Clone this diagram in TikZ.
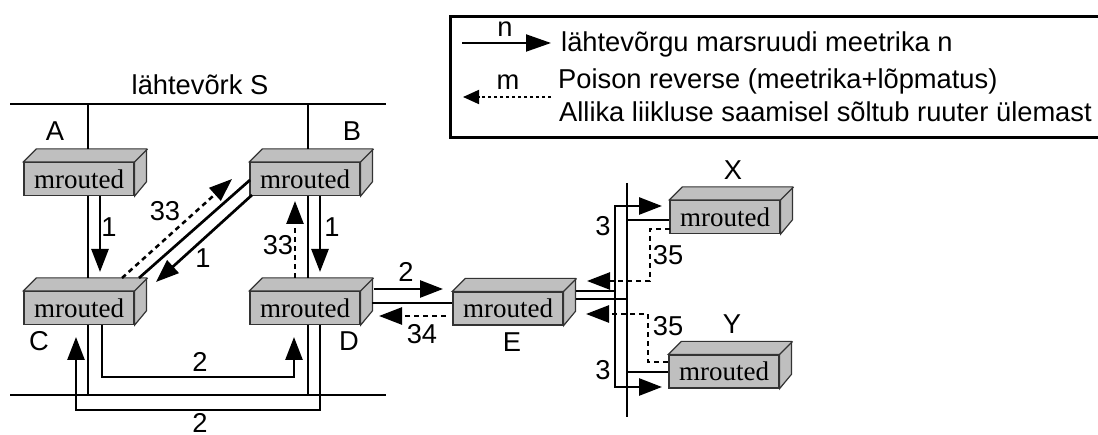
\documentclass[tikz,border=0pt]{standalone}
\usepackage{fontspec}
\setmainfont{Liberation Sans}
\newfontfamily\boxfont{Liberation Serif}
\usetikzlibrary{arrows.meta,calc}
\definecolor{boxgray}{gray}{0.75}
\tikzset{
  wire/.style={line width=2.7pt,line cap=butt,line join=miter},
  arr/.style={wire,-{Triangle[length=23pt,width=17pt]}},
  dashline/.style={line width=2.5pt,dash pattern=on 5pt off 4pt},
  darr/.style={dashline,-{Triangle[length=23pt,width=17pt]}},
  bus/.style={line width=2.7pt},
  lab/.style={font=\fontsize{27.3}{29}\selectfont,inner sep=0pt},
  legtext/.style={font=\fontsize{27.3}{29}\selectfont,inner sep=0pt,anchor=base west},
  mbox/.style={draw=black!80,line width=1.2pt,fill=boxgray,minimum width=110pt,minimum height=33pt,inner sep=0pt,font=\boxfont\fontsize{27}{28}\selectfont},
  mside/.style={draw=black!80,line width=1.2pt,fill=boxgray},
}
\newcommand{\mrouted}[3]{%
  \node[mbox] (#1) at (#2,#3) {mrouted};
  \draw[mside] (#1.north west) -- ++(13,-13) -- ++(110,0) -- ++(0,33) -- (#1.south east) -- (#1.north east) -- cycle;
  \draw[mside,fill=none] (#1.north east) -- ++(13,-13);
  \coordinate (#1t) at ($(#1.north)+(0,-13)$);
  \coordinate (#1r) at ($(#1.east)+(13,0)$);
}
\begin{document}
\begin{tikzpicture}[x=1pt,y=-1pt]
\useasboundingbox (0,0) rectangle (1098,435);
% routers
\mrouted{A}{79}{179}
\mrouted{B}{305}{179}
\mrouted{C}{79}{308}
\mrouted{D}{305}{308}
\mrouted{E}{508}{308.5}
\mrouted{X}{725}{217}
\mrouted{Y}{724}{371.5}
% buses
\coordinate (tl) at (10,104); \coordinate (tr) at (386,104);
\coordinate (bl) at (10,395); \coordinate (br) at (386,395);
\coordinate (vt) at (627,183); \coordinate (vb) at (627,417);
\draw[bus] (tl) -- (tr);
\draw[bus] (bl) -- (br);
\draw[bus] (vt) -- (vb);
% vertical wires
\coordinate (a1) at (88,104); \coordinate (b1) at (308,104);
\coordinate (c1) at (88,395); \coordinate (d1) at (308,395);
\draw[wire] (a1) -- (a1 |- At);
\draw[wire] (b1) -- (b1 |- Bt);
\draw[wire] (a1 |- A.south) -- (a1 |- Ct);
\draw[wire] (b1 |- B.south) -- (b1 |- Dt);
\draw[wire] (c1 |- C.south) -- (c1);
\draw[wire] (d1 |- D.south) -- (d1);
% metric 1 arrows
\coordinate (p1) at (100,272); \coordinate (p2) at (320,272);
\draw[arr] (p1 |- A.south) -- (p1);
\draw[arr] (p2 |- B.south) -- (p2);
% poison B-D
\coordinate (q1) at (295,201);
\draw[darr] (q1 |- Dt) -- (q1);
% diagonals
\coordinate (g1) at (250,180); \coordinate (g2) at (139,278);
\coordinate (g3) at (252,195); \coordinate (g4) at (156,282);
\coordinate (g5) at (122,278); \coordinate (g6) at (232,179);
\draw[wire] (g1) -- (g2);
\draw[arr] (g3) -- (g4);
\draw[darr] (g5) -- (g6);
% bottom routes
\coordinate (r1) at (102,377); \coordinate (r2) at (294,337);
\coordinate (s1) at (320,410); \coordinate (s2) at (76,337);
\draw[arr] (r1 |- C.south) -- (r1) -| (r2);
\draw[arr] (s1 |- D.south) -- (s1) -| (s2);
% D-E
\coordinate (e1) at (443,289); \coordinate (e2) at (372,303);
\coordinate (e3) at (446,316); \coordinate (e4) at (379,316);
\draw[arr] (Dr |- e1) -- (e1);
\draw[wire] (e2) -- (E.west |- e2);
\draw[darr] (e3) -- (e4);
% E-bus
\coordinate (f1) at (576,291); \coordinate (f2) at (615,291);
\coordinate (f3) at (576,299); \coordinate (f4) at (627,299);
\draw[wire] (f1) -- (f2);
\draw[wire] (f3) -- (f4);
\coordinate (h1) at (662,206); \coordinate (h2) at (662,387);
\draw[arr] (f2) -- (f2 |- h1) -- (h1);
\draw[arr] (f2) -- (f2 |- h2) -- (h2);
\coordinate (x1) at (627,220); \coordinate (y1) at (627,372);
\draw[wire] (x1) -- (X.west |- x1);
\draw[wire] (y1) -- (Y.west |- y1);
% poison X, Y
\coordinate (xd) at (670,229); \coordinate (xe) at (650,281); \coordinate (xa) at (587,281);
\coordinate (yd) at (668,362); \coordinate (ye) at (648,314); \coordinate (ya) at (586,314);
\draw[darr] (xd) -| (xe) -- (xa);
\draw[darr] (yd) -| (ye) -- (ya);
% labels
\node[lab] (ls) at (200,85) {lähtevõrk S};
\node[lab] (la) at (55,131) {A};
\node[lab] (lb) at (352,131) {B};
\node[lab] (lc) at (39,341) {C};
\node[lab] (ld) at (349,341) {D};
\node[lab] (le) at (512,342) {E};
\node[lab] (lx) at (733,170) {X};
\node[lab] (ly) at (732,324) {Y};
\node[lab] (n1) at (109,227) {1};
\node[lab] (n2) at (332,227) {1};
\node[lab] (n3) at (203,258) {1};
\node[lab] (n4) at (165,211) {33};
\node[lab] (n5) at (278,245) {33};
\node[lab] (n6) at (200,362) {2};
\node[lab] (n7) at (200,423) {2};
\node[lab] (n8) at (406,272) {2};
\node[lab] (n9) at (422,334) {34};
\node[lab] (n10) at (603,226) {3};
\node[lab] (n11) at (603,370) {3};
\node[lab] (n12) at (668,255) {35};
\node[lab] (n13) at (668,326) {35};
% legend
\node[draw,line width=2.6pt,minimum width=660pt,minimum height=121pt,inner sep=0pt,anchor=north west] (leg) at (449,15) {};
\coordinate (la1) at (462,43); \coordinate (la2) at (551,43);
\coordinate (lb1) at (551,97); \coordinate (lb2) at (463,97);
\draw[line width=2pt,-{Triangle[length=25pt,width=17pt]}] (la1) -- (la2);
\draw[line width=1.8pt,dash pattern=on 3.5pt off 2.5pt,-{Triangle[length=16pt,width=14pt]}] (lb1) -- (lb2);
\node[legtext,anchor=base] (ln) at (505,37) {n};
\node[legtext,anchor=base] (lm) at (508,90) {m};
\node[legtext] (t1) at (561,52) {lähtevõrgu marsruudi meetrika n};
\node[legtext] (t2) at (558,89) {Poison reverse (meetrika+lõpmatus)};
\node[legtext] (t3) at (559,122) {Allika liikluse saamisel sõltub ruuter ülemast};
\end{tikzpicture}
\end{document}
